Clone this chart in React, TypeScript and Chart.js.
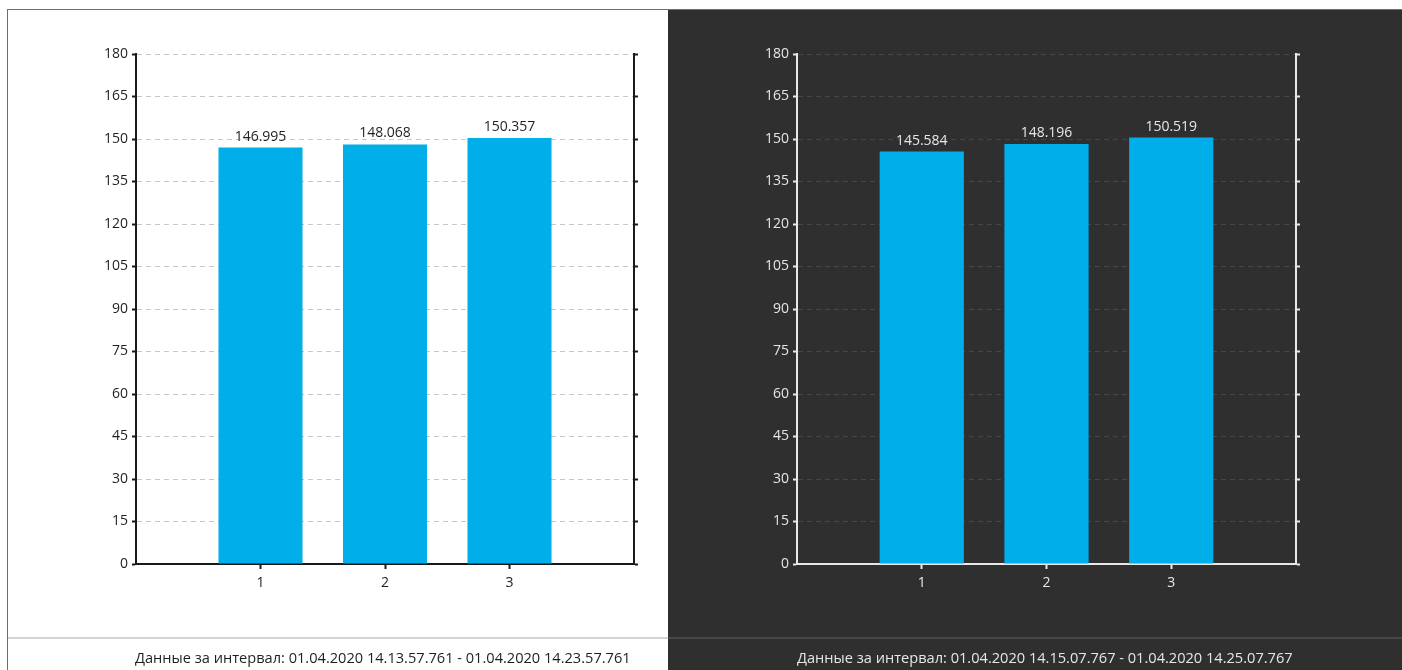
import React, { useEffect, useRef } from "react";
import { Chart, registerables } from "chart.js";

Chart.register(...registerables);

const categories = ["1", "2", "3"];
const leftValues = [146.995, 148.068, 150.357];
const rightValues = [145.584, 148.196, 150.519];
const yMin = 0;
const yMax = 180;
const yStep = 15;
const leftFooter = "Данные за интервал: 01.04.2020 14.13.57.761 - 01.04.2020 14.23.57.761";
const rightFooter = "Данные за интервал: 01.04.2020 14.15.07.767 - 01.04.2020 14.25.07.767";

const FONT = "'Open Sans', 'Noto Sans', sans-serif";

type Theme = { bg: string; grid: string; axis: string; text: string; bar: string; sep: string };

const lightTheme: Theme = { bg: "#ffffff", grid: "#c8c8c8", axis: "#1a1a1a", text: "#1f1f1f", bar: "#00aeea", sep: "#d4d4d4" };
const darkTheme: Theme = { bg: "#2f2f2f", grid: "#474747", axis: "#e8e8e8", text: "#e6e6e6", bar: "#00aeea", sep: "#474747" };

function BarPanel(props: { values: number[]; theme: Theme; width: number; height: number; leftW: number; rightW: number }) {
  const ref = useRef<HTMLCanvasElement>(null);
  const { values, theme, width, height, leftW, rightW } = props;
  useEffect(() => {
    const labels = ["", ...categories, ""];
    const data: (number | null)[] = [null, ...values, null];
    const valueLabels = {
      id: "valueLabels",
      afterDatasetsDraw(chart: any) {
        const ctx = chart.ctx;
        const meta = chart.getDatasetMeta(0);
        ctx.save();
        ctx.font = `14px ${FONT}`;
        ctx.fillStyle = theme.text;
        ctx.textAlign = "center";
        ctx.textBaseline = "alphabetic";
        meta.data.forEach((el: any, i: number) => {
          const v = data[i];
          if (v == null) return;
          ctx.fillText(v.toFixed(3), el.x, el.y - 7);
        });
        ctx.restore();
      },
    };
    const chart = new Chart(ref.current as HTMLCanvasElement, {
      type: "bar",
      data: {
        labels,
        datasets: [
          {
            data,
            backgroundColor: theme.bar,
            borderWidth: 0,
            categoryPercentage: 1,
            barPercentage: 0.675,
          } as any,
        ],
      },
      plugins: [valueLabels],
      options: {
        responsive: false,
        maintainAspectRatio: false,
        animation: false,
        layout: { padding: { top: 44, left: 0, right: 0, bottom: 0 } },
        plugins: { legend: { display: false }, tooltip: { enabled: false } },
        scales: {
          x: {
            type: "category",
            offset: false,
            grid: {
              offset: false,
              drawOnChartArea: false,
              tickLength: 5,
              tickWidth: 2,
              tickColor: (c: any) => (c.index === 0 || c.index === labels.length - 1 ? "rgba(0,0,0,0)" : theme.axis),
            },
            border: { color: theme.axis, width: 2 },
            ticks: { color: theme.text, font: { family: FONT, size: 14 }, padding: 6, maxRotation: 0, autoSkip: false },
            afterFit: (s: any) => {
              s.height = 74;
            },
          },
          y: {
            position: "left",
            min: yMin,
            max: yMax,
            ticks: { stepSize: yStep, color: theme.text, font: { family: FONT, size: 14 }, padding: 4 },
            grid: { color: theme.grid, lineWidth: 1, tickLength: 4, tickColor: theme.axis, tickWidth: 2 },
            border: { color: theme.axis, width: 2, dash: [5, 4] },
            afterFit: (s: any) => {
              s.width = leftW;
            },
          },
          y2: {
            position: "right",
            min: yMin,
            max: yMax,
            ticks: { stepSize: yStep, display: false },
            grid: { drawOnChartArea: false, tickLength: 4, tickColor: theme.axis, tickWidth: 2 },
            border: { color: theme.axis, width: 2 },
            afterFit: (s: any) => {
              s.width = rightW;
            },
          },
        },
      } as any,
    });
    return () => chart.destroy();
  }, []);
  return <canvas ref={ref} width={width} height={height} style={{ width, height, display: "block" }} />;
}

export default function App() {
  return (
    <div style={{ position: "fixed", left: 0, top: 0, width: 1402, height: 670, background: "#ffffff", overflow: "hidden", fontFamily: FONT }}>
      {/* top border */}
      <div style={{ position: "absolute", left: 7, top: 9, width: 1395, height: 1, background: "#6e6e6e" }} />
      {/* left border */}
      <div style={{ position: "absolute", left: 7, top: 9, width: 1, height: 661, background: "#6e6e6e" }} />
      {/* left panel */}
      <div style={{ position: "absolute", left: 8, top: 10, width: 660, height: 660, background: lightTheme.bg }}>
        <BarPanel values={leftValues} theme={lightTheme} width={660} height={628} leftW={128} rightW={34} />
        <div style={{ position: "absolute", left: 0, top: 627, width: 660, height: 2, background: lightTheme.sep }} />
        <div style={{ position: "absolute", left: 127, top: 638, fontSize: 14.6, lineHeight: "18px", color: lightTheme.text, whiteSpace: "nowrap" }}>{leftFooter}</div>
      </div>
      {/* right panel */}
      <div style={{ position: "absolute", left: 668, top: 10, width: 734, height: 660, background: darkTheme.bg }}>
        <BarPanel values={rightValues} theme={darkTheme} width={734} height={628} leftW={129} rightW={106} />
        <div style={{ position: "absolute", left: 0, top: 627, width: 734, height: 2, background: darkTheme.sep }} />
        <div style={{ position: "absolute", left: 129, top: 638, fontSize: 14.6, lineHeight: "18px", color: darkTheme.text, whiteSpace: "nowrap" }}>{rightFooter}</div>
      </div>
    </div>
  );
}
